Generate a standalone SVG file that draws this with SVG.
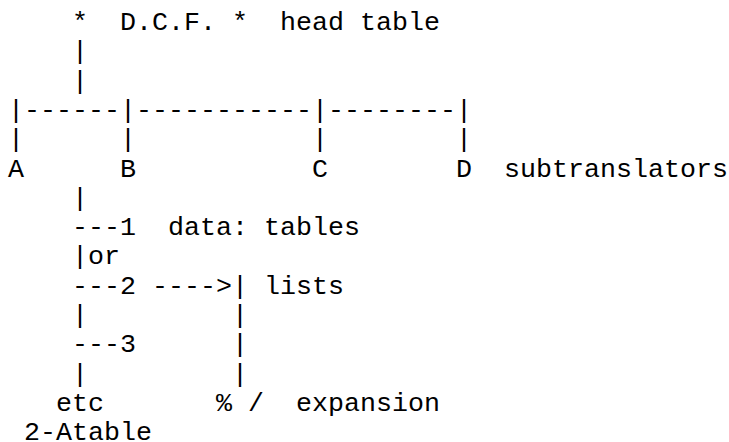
<svg xmlns="http://www.w3.org/2000/svg" width="729" height="442" viewBox="0 0 729 442" xml:space="preserve">
<style>
text { font-family: "Liberation Mono", "DejaVu Sans Mono", monospace; font-size: 26.67px; fill: #000; white-space: pre; }
</style>
<rect x="0" y="0" width="729" height="442" fill="#fff"/>
<g id="connectors">
<text x="72" y="59.3">|</text>
<text x="72" y="88.6">|</text>
<text x="8" y="117.9">|------|-----------|--------|</text>
<text x="8" y="147.2">|</text>
<text x="120" y="147.2">|</text>
<text x="312" y="147.2">|</text>
<text x="456" y="147.2">|</text>
<text x="72" y="205.8">|</text>
<text x="72" y="235.1">---</text>
<text x="72" y="264.4">|</text>
<text x="72" y="293.7">---</text>
<text x="152" y="293.7">----&gt;|</text>
<text x="72" y="323">|</text>
<text x="232" y="323">|</text>
<text x="72" y="352.3">---</text>
<text x="232" y="352.3">|</text>
<text x="72" y="381.6">|</text>
<text x="232" y="381.6">|</text>
<text x="88" y="264.4">or</text>
</g>
<g id="head"><text x="72" y="30">*  D.C.F. *  head table</text></g>
<g id="nodeA"><text x="8" y="176.5">A</text></g>
<g id="nodeB"><text x="120" y="176.5">B</text></g>
<g id="nodeC"><text x="312" y="176.5">C</text></g>
<g id="nodeD"><text x="456" y="176.5">D</text></g>
<g id="subtranslators"><text x="504" y="176.5">subtranslators</text></g>
<g id="item1"><text x="120" y="235.1">1  data: tables</text></g>
<g id="item2"><text x="120" y="293.7">2</text></g>
<g id="lists"><text x="264" y="293.7">lists</text></g>
<g id="item3"><text x="120" y="352.3">3</text></g>
<g id="etc"><text x="56" y="410.9">etc</text></g>
<g id="expansion"><text x="216" y="410.9">% /  expansion</text></g>
<g id="atable"><text x="24" y="439.5">2-Atable</text></g>
</svg>
